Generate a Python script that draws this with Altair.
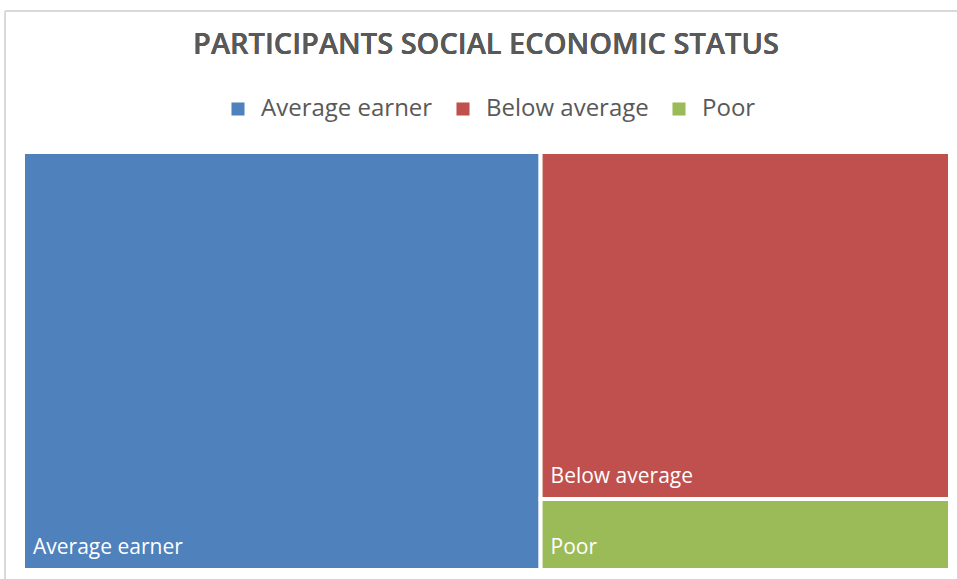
import altair as alt
import pandas as pd

# ---- data ----
categories = ["Average earner", "Below average", "Poor"]
values = [67, 44, 9]
colors = ["#4F81BD", "#C0504D", "#9BBB59"]

W, H = 927, 418  # plot area (layout units)


def worst(row, side):
    s = sum(row)
    mx, mn = max(row), min(row)
    return max(side * side * mx / (s * s), (s * s) / (side * side * mn))


def squarify(vals, x, y, w, h):
    out = []
    vals = list(vals)
    while vals:
        side = min(w, h)
        row = [vals[0]]
        i = 1
        while i < len(vals) and worst(row + [vals[i]], side) <= worst(row, side):
            row.append(vals[i])
            i += 1
        s = sum(row)
        if w >= h:  # column on the left
            cw = s / h
            yy = y
            for v in row:
                hh = v / cw
                out.append((x, yy, x + cw, yy + hh))
                yy += hh
            x += cw
            w -= cw
        else:  # row on top
            rh = s / w
            xx = x
            for v in row:
                ww = v / rh
                out.append((xx, y, xx + ww, y + rh))
                xx += ww
            y += rh
            h -= rh
        vals = vals[i:]
    return out


total = sum(values)
areas = [v / total * W * H for v in values]
rects = squarify(areas, 0, 0, W, H)

df = pd.DataFrame({
    "cat": categories,
    "value": values,
    "x0": [r[0] for r in rects],
    "y0": [r[1] for r in rects],
    "x1": [r[2] for r in rects],
    "y1": [r[3] for r in rects],
})

FONT = "Open Sans"
xs = alt.Scale(domain=[0, W], nice=False, zero=False)
ys = alt.Scale(domain=[0, H], nice=False, zero=False, reverse=True)
color = alt.Color(
    "cat:N",
    scale=alt.Scale(domain=categories, range=colors),
    legend=alt.Legend(
        title=None, orient="none", direction="horizontal",
        legendX=203, legendY=-55,
        symbolType="square", symbolSize=170, symbolStrokeWidth=0,
        labelFont=FONT, labelFontSize=24, labelColor="#595959",
        labelOffset=11, columnPadding=18, labelLimit=400,
    ),
)

tiles = alt.Chart(df).mark_rect(stroke="white", strokeWidth=4).encode(
    x=alt.X("x0:Q", scale=xs, axis=None),
    x2="x1:Q",
    y=alt.Y("y0:Q", scale=ys, axis=None),
    y2="y1:Q",
    color=color,
)

labels = alt.Chart(df).mark_text(
    align="left", baseline="alphabetic", dx=10, dy=-16,
    font=FONT, fontSize=21, color="white",
).encode(
    x=alt.X("x0:Q", scale=xs, axis=None),
    y=alt.Y("y1:Q", scale=ys, axis=None),
    text="cat:N",
)

frame_top = alt.Chart(df).mark_rule(color="#d9d9d9", strokeWidth=2).encode(
    x=alt.value(-18), x2=alt.value(940), y=alt.value(-141)
)
frame_left = alt.Chart(df).mark_rule(color="#d9d9d9", strokeWidth=2).encode(
    x=alt.value(-18), y=alt.value(-141), y2=alt.value(430)
)

title = alt.Chart(df).mark_text(
    text="PARTICIPANTS SOCIAL ECONOMIC STATUS",
    align="center", baseline="alphabetic",
    font=FONT, fontSize=29, fontWeight=600, color="#595959",
).encode(x=alt.value(W / 2 - 0.5), y=alt.value(-98))

chart = alt.layer(frame_top, frame_left, tiles, labels, title).properties(
    width=W,
    height=H,
    autosize=alt.AutoSizeParams(type="none"),
    padding={"left": 23, "top": 152, "right": 7, "bottom": 9},
    background="white",
).configure_view(stroke=None)

chart.save("out.html", embed_options={"renderer": "svg", "actions": False})
